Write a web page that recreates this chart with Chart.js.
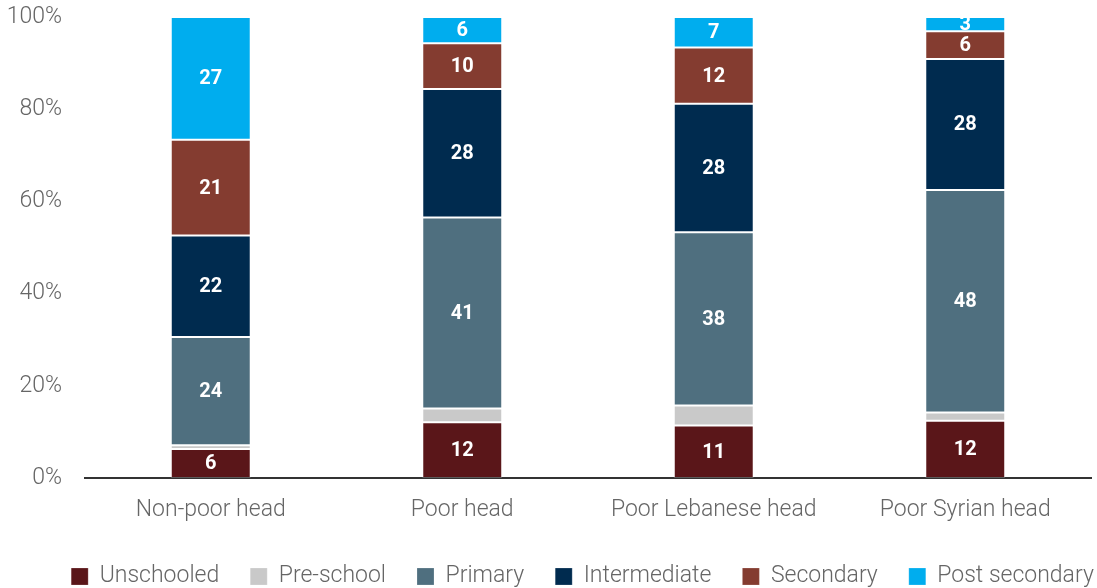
<!DOCTYPE html>
<html>
<head>
<meta charset="utf-8">
<script src="https://cdn.jsdelivr.net/npm/chart.js@4"></script>
<style>
    html, body { margin: 0; padding: 0; background: #ffffff; }
    #contenedor { width: 1097px; height: 588px; position: relative; }
</style>
</head>
<body>
<div id="contenedor"><canvas id="miGrafica"></canvas></div>
<script>
// =============================
// DATOS
// =============================
const categorias = ["Non-poor head", "Poor head", "Poor Lebanese head", "Poor Syrian head"];

const unschooled   = [6.3, 12.1, 11.4, 12.4];
const preSchool    = [0.8, 3.0, 4.3, 1.8];
const primary      = [23.5, 41.4, 37.6, 48.3];
const intermediate = [22.0, 27.9, 27.9, 28.4];
const secondary    = [20.8, 9.9, 12.2, 6.0];
const postSecondary = [26.6, 5.7, 6.6, 3.1];

const etiquetasY = ["0%", "20%", "40%", "60%", "80%", "100%"];

// =============================
// ETIQUETAS DENTRO DE LAS BARRAS
// =============================
const etiquetasBarras = {
    id: "etiquetasBarras",
    afterDatasetsDraw(chart){
        let ctx = chart.ctx;
        ctx.save();
        ctx.font = "bold 20px Roboto";
        ctx.fillStyle = "#ffffff";
        ctx.textAlign = "center";
        ctx.textBaseline = "middle";
        chart.data.datasets.forEach(function(ds, i){
            if(ds.sinEtiqueta){
                return;
            }
            chart.getDatasetMeta(i).data.forEach(function(barra, j){
                let y = (barra.y + barra.base) / 2;
                ctx.fillText(String(Math.round(ds.data[j])), barra.x, y + 1);
            });
        });
        ctx.restore();
    }
};

// mover la leyenda un poco (derecha y abajo)
const moverLeyenda = {
    id: "moverLeyenda",
    afterLayout(chart){
        let ley = chart.legend;
        ley.left += 37;
        ley.right += 37;
        ley.top += 10;
        ley.bottom += 10;
    }
};

function serie(nombre, datos, color, sinEtiqueta){
    return {
        label: nombre,
        data: datos,
        backgroundColor: color,
        borderColor: "rgba(255,255,255,0.2)",
        borderWidth: 1,
        borderSkipped: false,
        barPercentage: 0.318,
        categoryPercentage: 1,
        sinEtiqueta: sinEtiqueta
    };
}

let ctx = document.getElementById("miGrafica").getContext("2d");

let grafica = new Chart(ctx, {
    type: "bar",
    data: {
        labels: categorias,
        datasets: [
            serie("Unschooled", unschooled, "#5a1619", false),
            serie("Pre-school", preSchool, "#c9c9c9", true),
            serie("Primary", primary, "#4f6f7f", false),
            serie("Intermediate", intermediate, "#002b4f", false),
            serie("Secondary", secondary, "#843c30", false),
            serie("Post secondary", postSecondary, "#00adee", false)
        ]
    },
    options: {
        responsive: true,
        maintainAspectRatio: false,
        animation: false,
        layout: {
            padding: { top: 17, right: 6, left: 0, bottom: 0 }
        },
        plugins: {
            legend: {
                display: true,
                position: "bottom",
                labels: {
                    boxWidth: 17,
                    boxHeight: 17,
                    padding: 31,
                    color: "#666666",
                    font: { family: "Roboto", size: 23, weight: 300 }
                }
            },
            tooltip: { enabled: false }
        },
        scales: {
            x: {
                stacked: true,
                grid: { display: false, drawTicks: false },
                border: { display: true, color: "#333333", width: 2 },
                ticks: {
                    color: "#666666",
                    padding: 18,
                    font: { family: "Roboto", size: 23, weight: 300 }
                },
                afterFit(escala){
                    escala.height = 46;
                }
            },
            y: {
                stacked: true,
                min: 0,
                max: 100,
                grid: { display: false, drawTicks: false },
                border: { display: false },
                ticks: {
                    stepSize: 20,
                    color: "#666666",
                    padding: 23,
                    font: { family: "Roboto", size: 23, weight: 300 },
                    callback: function(valor){
                        return etiquetasY[valor / 20];
                    }
                },
                afterFit(escala){
                    escala.width = 85;
                    escala.paddingTop = 0;
                    escala.paddingBottom = 0;
                }
            }
        }
    },
    plugins: [etiquetasBarras, moverLeyenda]
});
</script>
</body>
</html>
